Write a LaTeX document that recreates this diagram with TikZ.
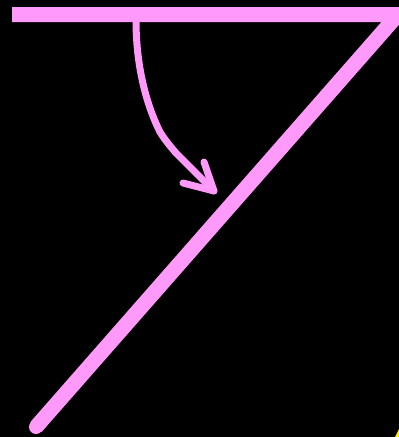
\documentclass[tikz,border=0pt]{standalone}
\definecolor{pinkline}{RGB}{255,153,250}
\definecolor{yellowbit}{RGB}{255,240,0}
\tikzset{
  thickbar/.style={draw=pinkline, line width=15pt},
  arrowline/.style={draw=pinkline, line width=7pt, line cap=round, line join=round}
}
\begin{document}
\begin{tikzpicture}[x=1pt,y=-1pt]
  \useasboundingbox (0,0) rectangle (399,437);
  \fill[black] (0,0) rectangle (399,437);
  \clip (0,0) rectangle (399,437);
  % named points
  \coordinate (barL) at (12,14.5);
  \coordinate (corner) at (398,14.5);
  \coordinate (foot) at (36,427);
  \coordinate (arrS) at (136,20);
  \coordinate (arrT) at (214,191);
  % the seven
  \draw[thickbar, line cap=butt, line join=miter] (barL) -- (corner) -- (foot);
  \draw[thickbar, line width=14pt, line cap=round] (corner) -- (foot);
  % curved arrow
  \draw[arrowline] (arrS) .. controls (136,70) and (148,108) .. (160,132)
     .. controls (165,140) and (170,146) .. (176,153) -- (arrT);
  \draw[arrowline] (204,162) -- (arrT) -- (183,183);
  % small yellow corner bit
  \fill[yellowbit] (399,429) -- (399,437) -- (395,437) -- cycle;
\end{tikzpicture}
\end{document}
